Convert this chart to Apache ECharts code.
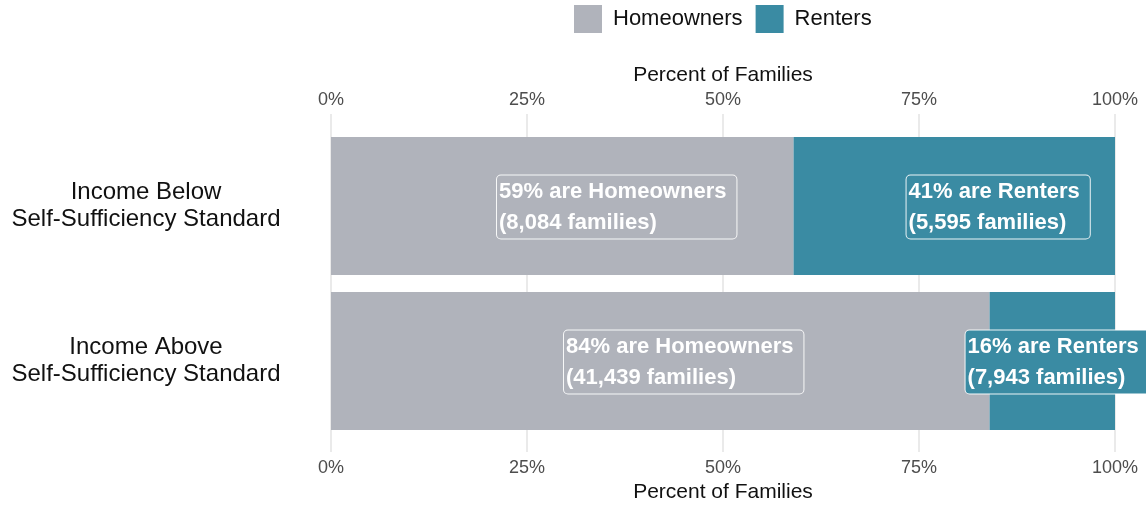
<!DOCTYPE html>
<html>
<head>
<meta charset="utf-8">
<script src="https://cdn.jsdelivr.net/npm/echarts@6/dist/echarts.min.js"></script>
<style>
  html, body { margin: 0; padding: 0; background: #fff; }
  #chart { width: 1146px; height: 508px; }
</style>
</head>
<body>
<div id="chart"></div>
<script>
// Family groups by income relative to the Self-Sufficiency Standard
const categories = [
  'Income Below\nSelf-Sufficiency Standard',
  'Income Above\nSelf-Sufficiency Standard'
];
const homeownerPct = [59, 84];
const renterPct = [41, 16];
const homeownerFamilies = [8084, 41439];
const renterFamilies = [5595, 7943];
const xTicks = [0, 25, 50, 75, 100];

// Horizontal shift (px) of each callout box from the left edge of its bar segment
const homeownerLabelShift = [166, 233];
const renterLabelShift = [113, -24];

const FONT = '"Liberation Sans", Arial, sans-serif';
const GRAY = '#b0b3bb';
const TEAL = '#3a8ba3';

const fmt = n => n.toLocaleString('en-US');

function calloutData(pcts, counts, shifts, noun, color) {
  return pcts.map((v, i) => ({
    value: v,
    label: {
      show: true,
      position: 'insideLeft',
      distance: 0,
      offset: [shifts[i], 1],
      formatter: `${v}% are ${noun}\n(${fmt(counts[i])} families)`,
      color: '#fff',
      fontFamily: FONT,
      fontWeight: 'bold',
      fontSize: 22,
      lineHeight: 31,
      align: 'left',
      backgroundColor: color,
      borderColor: 'rgba(255,255,255,0.9)',
      borderWidth: 1,
      borderRadius: 4,
      padding: [1, 10, 0, 2]
    }
  }));
}

const pctAxis = (pos, margin) => ({
  type: 'value',
  gridIndex: 0,
  position: pos,
  min: xTicks[0],
  max: xTicks[xTicks.length - 1],
  interval: xTicks[1] - xTicks[0],
  name: 'Percent of Families',
  nameLocation: 'middle',
  nameGap: 28,
  nameTextStyle: { fontFamily: FONT, fontSize: 21, color: '#111' },
  axisLine: { show: false },
  axisTick: { show: false },
  axisLabel: {
    formatter: '{value}%',
    fontFamily: FONT,
    fontSize: 18,
    color: '#4d4d4d',
    margin: margin
  },
  splitLine: { show: true, lineStyle: { color: '#e9e9e9', width: 1.5 } }
});

const chart = echarts.init(document.getElementById('chart'), null, { renderer: 'canvas' });

chart.setOption({
  animation: false,
  backgroundColor: '#fff',
  legend: {
    left: 574,
    top: 5,
    padding: 0,
    itemWidth: 28,
    itemHeight: 28,
    itemGap: 13,
    icon: 'rect',
    data: ['Homeowners', 'Renters'],
    textStyle: { fontFamily: FONT, fontSize: 22, color: '#111', padding: [0, 0, 0, 6] }
  },
  grid: [
    { left: 331, right: 31, top: 114, bottom: 54 },
    { left: 331, right: 31, top: 128.5, bottom: 69.5 }
  ],
  xAxis: [
    pctAxis('bottom', 7),
    pctAxis('top', 5),
    { type: 'value', gridIndex: 1, min: 0, max: 100, show: false }
  ],
  yAxis: [
    { type: 'value', gridIndex: 0, show: false },
    {
      type: 'category',
      gridIndex: 1,
      inverse: true,
      data: categories,
      axisLine: { show: false },
      axisTick: { show: false },
      axisLabel: {
        align: 'center',
        margin: 185,
        fontFamily: FONT,
        fontSize: 24,
        lineHeight: 27,
        padding: [3, 0, 0, 0],
        color: '#111'
      }
    }
  ],
  series: [
    {
      name: 'Homeowners',
      type: 'bar',
      xAxisIndex: 2,
      yAxisIndex: 1,
      stack: 'tenure',
      barWidth: '89%',
      itemStyle: { color: GRAY },
      data: calloutData(homeownerPct, homeownerFamilies, homeownerLabelShift, 'Homeowners', GRAY)
    },
    {
      name: 'Renters',
      type: 'bar',
      xAxisIndex: 2,
      yAxisIndex: 1,
      stack: 'tenure',
      barWidth: '89%',
      itemStyle: { color: TEAL },
      data: calloutData(renterPct, renterFamilies, renterLabelShift, 'Renters', TEAL)
    }
  ]
});
</script>
</body>
</html>
